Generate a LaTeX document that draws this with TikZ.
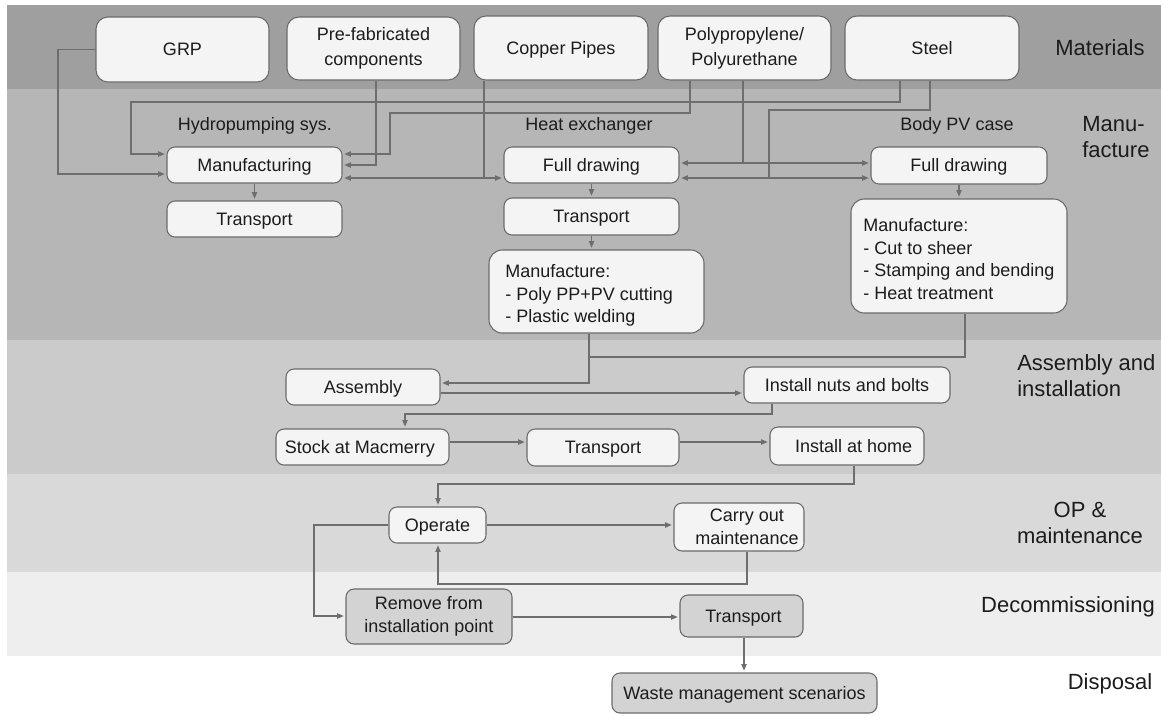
\documentclass[tikz,border=0pt]{standalone}
\usepackage{fontspec}
\setmainfont{Liberation Sans}
\usetikzlibrary{arrows.meta}
\definecolor{bandA}{HTML}{9F9F9F}
\definecolor{bandB}{HTML}{B6B6B6}
\definecolor{bandC}{HTML}{CBCBCB}
\definecolor{bandD}{HTML}{D9D9D9}
\definecolor{bandE}{HTML}{EEEEEE}
\definecolor{boxfill}{HTML}{F4F4F4}
\definecolor{dboxfill}{HTML}{D3D3D3}
\definecolor{boxline}{HTML}{6A6A6A}
\definecolor{lncol}{HTML}{6E6E6E}
\definecolor{txtcol}{HTML}{1C1C1C}
\newcommand{\boxfont}{\fontsize{13.5}{16.9}\selectfont}
\newcommand{\matfont}{\fontsize{13.5}{18.8}\selectfont}
\newcommand{\labfont}{\fontsize{16.5}{19.5}\selectfont}
\begin{document}
\begin{tikzpicture}[x=0.75pt,y=-0.75pt,
  corners/.style args={#1/#2/#3/#4}{minimum width={(#3-#1)*0.75pt},
    minimum height={(#4-#2)*0.75pt}, at={({(#1+#3)/2},{(#2+#4)/2})}},
  box/.style={draw=boxline, fill=boxfill, rounded corners=6pt, inner sep=0pt,
    line width=0.8pt, font=\boxfont, text=txtcol, align=center},
  onebox/.style={box, text height=9.7pt, text depth=0pt},
  matbox/.style={box, rounded corners=9pt, font=\matfont},
  matone/.style={matbox, text height=9.7pt, text depth=0pt},
  bigbox/.style={box, rounded corners=10pt},
  dbox/.style={box, fill=dboxfill},
  donebox/.style={onebox, fill=dboxfill},
  txt/.style={font=\boxfont, text=txtcol, inner sep=0pt},
  lab/.style={font=\labfont, text=txtcol, inner sep=0pt},
  conn/.style={draw=lncol, line width=1.1pt},
  arr/.style={conn, -{Triangle[length=5pt,width=3.8pt]}, shorten >=1.2pt}]
\useasboundingbox (0,0) rectangle (1161,715);
% bands
\fill[bandA] (7,5) rectangle (1161,89);
\fill[bandB] (7,89) rectangle (1161,340);
\fill[bandC] (7,340) rectangle (1161,474);
\fill[bandD] (7,474) rectangle (1161,572);
\fill[bandE] (7,572) rectangle (1161,656);
% materials
\node[matone, corners=96/17/269/82] (grp) {GRP};
\node[matbox, corners=287/17/460/80] (pre) {Pre-fabricated\\components};
\node[matone, corners=474/16/648/80] (cu) {Copper Pipes};
\node[matbox, corners=658/16/831/80] (pp) {Polypropylene/\\Polyurethane};
\node[matone, corners=845/16/1019/80] (steel) {Steel};
% manufacture
\node[txt] (lhyd) at (255,126) {Hydropumping sys.};
\node[txt] (lhx) at (589,126) {Heat exchanger};
\node[txt] (lbody) at (957,126) {Body PV case};
\node[onebox, corners=167/147/342/183] (mfg) {Manufacturing};
\node[onebox, corners=167/201/342/237] (htr) {Transport};
\node[onebox, corners=504/147/679/183] (hxfd) {Full drawing};
\node[onebox, corners=504/198/679/235] (hxtr) {Transport};
\node[bigbox, corners=489/250/704/333] (hxm) {};
\node[txt, align=left, anchor=north west] (hxmt) at (505,264.5) {Manufacture:\\- Poly PP+PV cutting\\- Plastic welding};
\node[onebox, corners=871/147/1047/184] (bfd) {Full drawing};
\node[bigbox, corners=851/199/1067/313] (bm) {};
\node[txt, align=left, anchor=north west] (bmt) at (863,218.5) {Manufacture:\\- Cut to sheer\\- Stamping and bending\\- Heat treatment};
% assembly
\node[onebox, corners=286/369/440/405] (asm) {Assembly};
\node[onebox, corners=744/367/950/403] (nuts) {Install nuts and bolts};
\node[onebox, corners=276/429/449/465] (stock) {Stock at Macmerry\hspace*{4pt}};
\node[onebox, corners=527/429/679/466] (tr2) {Transport};
\node[onebox, corners=770/427/924/465] (home) {\hspace*{10pt}Install at home};
% operation
\node[onebox, corners=389/507/486/543] (op) {Operate};
\node[box, corners=674/503/804/551] (co) {};
\node[txt, align=center] (cot) at (747,527) {Carry out\\maintenance};
% decommissioning
\node[dbox, corners=346/589/512/644] (rem) {Remove from\\installation point};
\node[donebox, corners=680/595/803/637] (dtr) {\hspace*{3pt}Transport};
\node[donebox, corners=612/673/877/713] (waste) {Waste management scenarios};
% right labels
\node[lab] (lmat) at (1100,48) {Materials};
\node[lab, align=left, anchor=west] (lman) at (1082,137) {Manu-\\facture};
\node[lab, align=left, anchor=west] (lasm) at (1017,376) {Assembly and\\installation};
\node[lab, align=center] (lop) at (1080,523) {OP \&\\maintenance};
\node[lab] (ldec) at (1068,607) {Decommissioning};
\node[lab] (ldis) at (1110,684) {Disposal};
% junctions
\coordinate (jcu) at (484,178);
\coordinate (jpp) at (743,163);
\coordinate (jst) at (769,178);
\coordinate (jasm) at (589,357);
% connectors: materials -> manufacture
\draw[arr] (grp.west) -| (58,174) -- (mfg.west |- 0,174);
\draw[arr] (steel.south -| 900,0) |- (131,102) |- (mfg.west |- 0,154);
\draw[arr] (pp.south -| 690,0) |- (390,113) |- (mfg.east |- 0,154);
\draw[arr] (pre.south -| 376,0) |- (mfg.east |- 0,165);
\draw[arr] (cu.south -| 484,0) |- (mfg.east |- 0,178);
\draw[arr] (jcu) -- (hxfd.west |- jcu);
\draw[arr] (pp.south -| 743,0) |- (hxfd.east |- 0,163);
\draw[arr] (jpp) -- (bfd.west |- jpp);
\draw[arr] (steel.south -| 930,0) |- (769,110) |- (hxfd.east |- 0,178);
\draw[arr] (jst) -- (bfd.west |- jst);
% within manufacture
\draw[arr] (mfg.south) -- (htr.north);
\draw[arr] (hxfd.south) -- (hxtr.north);
\draw[arr] (hxtr.south) -- (hxtr.south |- hxm.north);
\draw[arr] (bfd.south) -- (bfd.south |- bm.north);
% to assembly
\draw[arr] (hxm.south -| 589,0) |- (asm.east |- 0,383);
\draw[conn] (bm.south -| 965,0) |- (jasm);
\draw[arr] (asm.east |- 0,393) -- (nuts.west |- 0,393);
\draw[arr] (nuts.south -| 772,0) |- (405,414) -- (stock.north -| 405,0);
\draw[arr] (stock.east |- 0,442) -- (tr2.west |- 0,442);
\draw[arr] (tr2.east |- 0,442) -- (home.west |- 0,442);
% operation
\draw[arr] (home.south -| 854,0) |- (438,484) -- (op.north -| 438,0);
\draw[arr] (op.east) -- (co.west |- op.east);
\draw[arr] (co.south -| 747,0) |- (438,584) -- (op.south -| 438,0);
\draw[arr] (op.west) -| (314,616) -- (rem.west |- 0,616);
% decommissioning
\draw[arr] (rem.east |- 0,617) -- (dtr.west |- 0,617);
\draw[arr] (dtr.south -| 744,0) -- (waste.north -| 744,0);
\end{tikzpicture}
\end{document}
